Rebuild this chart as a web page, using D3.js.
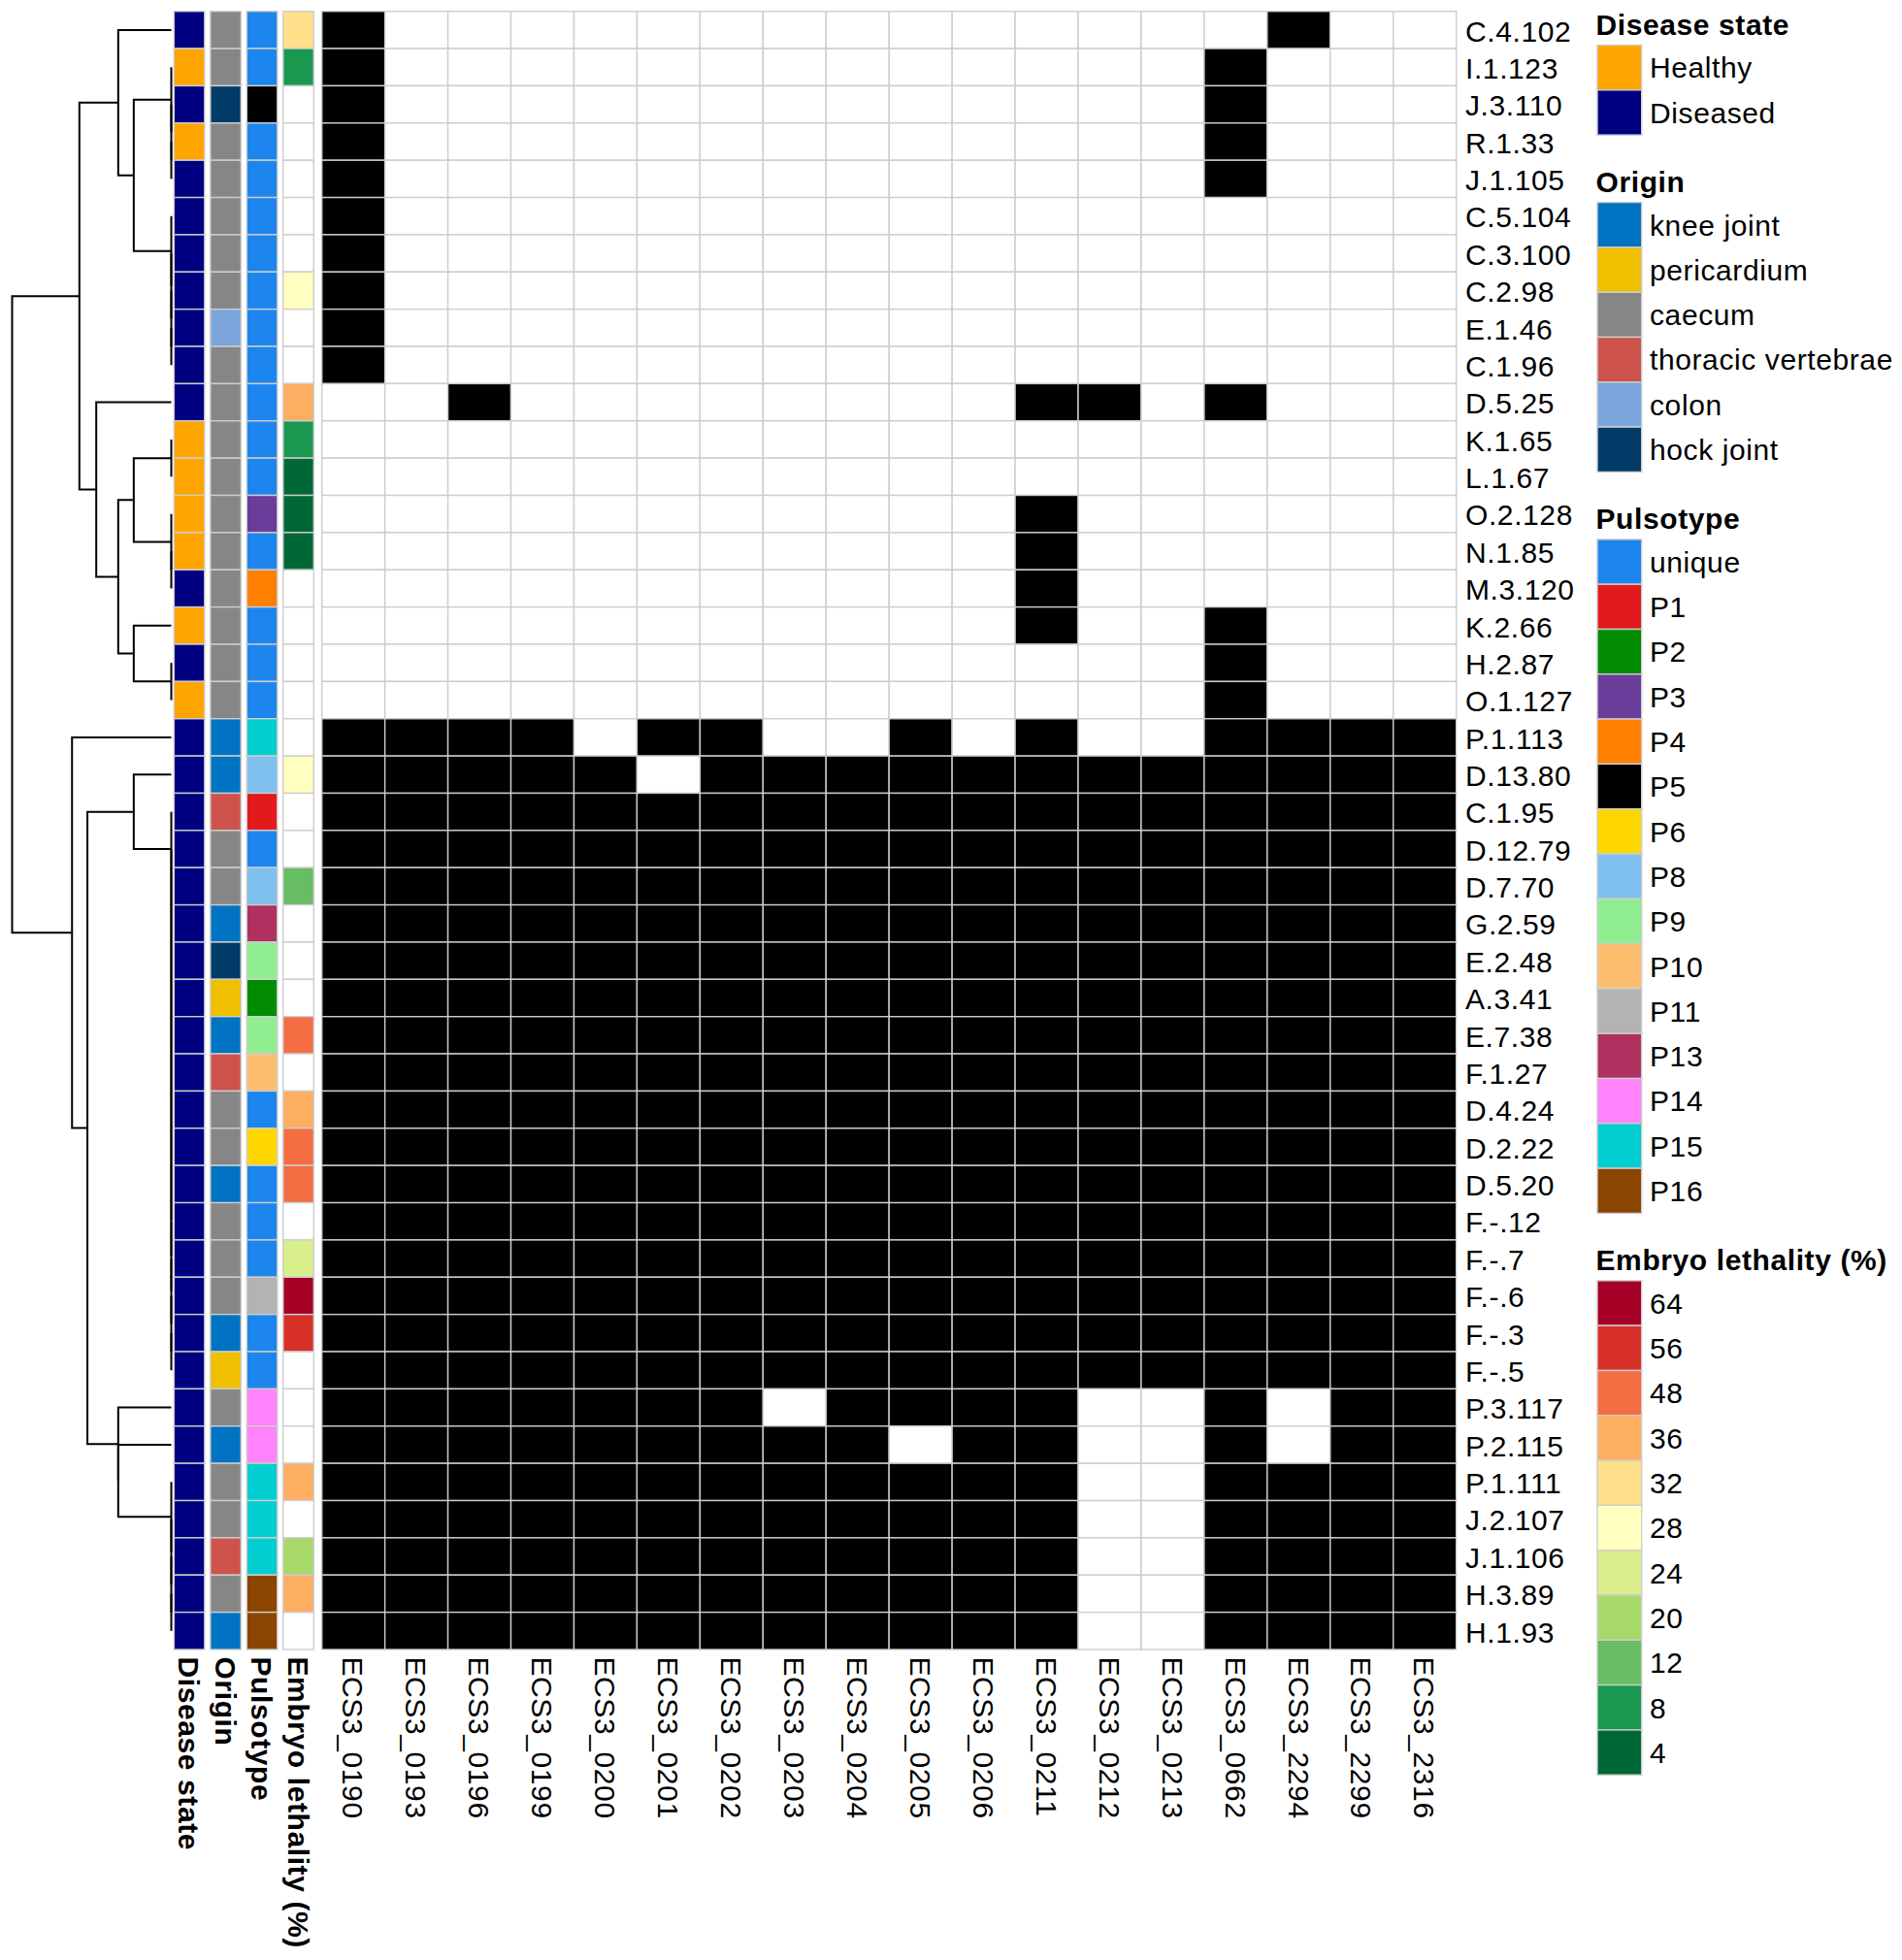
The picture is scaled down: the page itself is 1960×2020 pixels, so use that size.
<!DOCTYPE html>
<html><head><meta charset="utf-8">
<script src="https://cdn.jsdelivr.net/npm/d3@7"></script>
<style>
body{margin:0;background:#fff}
svg{display:block}
text{font-family:"Liberation Sans", Arial, Helvetica, sans-serif;fill:#000;letter-spacing:0.6px}
</style>
</head><body>
<svg id="chart" width="1960" height="2020"></svg>
<script>
// ---------------- DATA ----------------
const rowLabels = ["C.4.102","I.1.123","J.3.110","R.1.33","J.1.105","C.5.104","C.3.100","C.2.98","E.1.46","C.1.96",
  "D.5.25","K.1.65","L.1.67","O.2.128","N.1.85","M.3.120","K.2.66","H.2.87","O.1.127","P.1.113",
  "D.13.80","C.1.95","D.12.79","D.7.70","G.2.59","E.2.48","A.3.41","E.7.38","F.1.27","D.4.24",
  "D.2.22","D.5.20","F.-.12","F.-.7","F.-.6","F.-.3","F.-.5","P.3.117","P.2.115","P.1.111",
  "J.2.107","J.1.106","H.3.89","H.1.93"];

const colLabels = ["ECS3_0190","ECS3_0193","ECS3_0196","ECS3_0199","ECS3_0200","ECS3_0201","ECS3_0202","ECS3_0203","ECS3_0204",
  "ECS3_0205","ECS3_0206","ECS3_0211","ECS3_0212","ECS3_0213","ECS3_0662","ECS3_2294","ECS3_2299","ECS3_2316"];

// presence (1) / absence (0) of each gene, one row per isolate, columns in colLabels order
const presence = [
  [1,0,0,0,0,0,0,0,0,0,0,0,0,0,0,1,0,0], // C.4.102
  [1,0,0,0,0,0,0,0,0,0,0,0,0,0,1,0,0,0], // I.1.123
  [1,0,0,0,0,0,0,0,0,0,0,0,0,0,1,0,0,0], // J.3.110
  [1,0,0,0,0,0,0,0,0,0,0,0,0,0,1,0,0,0], // R.1.33
  [1,0,0,0,0,0,0,0,0,0,0,0,0,0,1,0,0,0], // J.1.105
  [1,0,0,0,0,0,0,0,0,0,0,0,0,0,0,0,0,0], // C.5.104
  [1,0,0,0,0,0,0,0,0,0,0,0,0,0,0,0,0,0], // C.3.100
  [1,0,0,0,0,0,0,0,0,0,0,0,0,0,0,0,0,0], // C.2.98
  [1,0,0,0,0,0,0,0,0,0,0,0,0,0,0,0,0,0], // E.1.46
  [1,0,0,0,0,0,0,0,0,0,0,0,0,0,0,0,0,0], // C.1.96
  [0,0,1,0,0,0,0,0,0,0,0,1,1,0,1,0,0,0], // D.5.25
  [0,0,0,0,0,0,0,0,0,0,0,0,0,0,0,0,0,0], // K.1.65
  [0,0,0,0,0,0,0,0,0,0,0,0,0,0,0,0,0,0], // L.1.67
  [0,0,0,0,0,0,0,0,0,0,0,1,0,0,0,0,0,0], // O.2.128
  [0,0,0,0,0,0,0,0,0,0,0,1,0,0,0,0,0,0], // N.1.85
  [0,0,0,0,0,0,0,0,0,0,0,1,0,0,0,0,0,0], // M.3.120
  [0,0,0,0,0,0,0,0,0,0,0,1,0,0,1,0,0,0], // K.2.66
  [0,0,0,0,0,0,0,0,0,0,0,0,0,0,1,0,0,0], // H.2.87
  [0,0,0,0,0,0,0,0,0,0,0,0,0,0,1,0,0,0], // O.1.127
  [1,1,1,1,0,1,1,0,0,1,0,1,0,0,1,1,1,1], // P.1.113
  [1,1,1,1,1,0,1,1,1,1,1,1,1,1,1,1,1,1], // D.13.80
  [1,1,1,1,1,1,1,1,1,1,1,1,1,1,1,1,1,1], // C.1.95
  [1,1,1,1,1,1,1,1,1,1,1,1,1,1,1,1,1,1], // D.12.79
  [1,1,1,1,1,1,1,1,1,1,1,1,1,1,1,1,1,1], // D.7.70
  [1,1,1,1,1,1,1,1,1,1,1,1,1,1,1,1,1,1], // G.2.59
  [1,1,1,1,1,1,1,1,1,1,1,1,1,1,1,1,1,1], // E.2.48
  [1,1,1,1,1,1,1,1,1,1,1,1,1,1,1,1,1,1], // A.3.41
  [1,1,1,1,1,1,1,1,1,1,1,1,1,1,1,1,1,1], // E.7.38
  [1,1,1,1,1,1,1,1,1,1,1,1,1,1,1,1,1,1], // F.1.27
  [1,1,1,1,1,1,1,1,1,1,1,1,1,1,1,1,1,1], // D.4.24
  [1,1,1,1,1,1,1,1,1,1,1,1,1,1,1,1,1,1], // D.2.22
  [1,1,1,1,1,1,1,1,1,1,1,1,1,1,1,1,1,1], // D.5.20
  [1,1,1,1,1,1,1,1,1,1,1,1,1,1,1,1,1,1], // F.-.12
  [1,1,1,1,1,1,1,1,1,1,1,1,1,1,1,1,1,1], // F.-.7
  [1,1,1,1,1,1,1,1,1,1,1,1,1,1,1,1,1,1], // F.-.6
  [1,1,1,1,1,1,1,1,1,1,1,1,1,1,1,1,1,1], // F.-.3
  [1,1,1,1,1,1,1,1,1,1,1,1,1,1,1,1,1,1], // F.-.5
  [1,1,1,1,1,1,1,0,1,1,1,1,0,0,1,0,1,1], // P.3.117
  [1,1,1,1,1,1,1,1,1,0,1,1,0,0,1,0,1,1], // P.2.115
  [1,1,1,1,1,1,1,1,1,1,1,1,0,0,1,1,1,1], // P.1.111
  [1,1,1,1,1,1,1,1,1,1,1,1,0,0,1,1,1,1], // J.2.107
  [1,1,1,1,1,1,1,1,1,1,1,1,0,0,1,1,1,1], // J.1.106
  [1,1,1,1,1,1,1,1,1,1,1,1,0,0,1,1,1,1], // H.3.89
  [1,1,1,1,1,1,1,1,1,1,1,1,0,0,1,1,1,1]  // H.1.93
];

const diseaseState = ["Diseased","Healthy","Diseased","Healthy","Diseased","Diseased","Diseased","Diseased","Diseased","Diseased",
  "Diseased","Healthy","Healthy","Healthy","Healthy","Diseased","Healthy","Diseased","Healthy","Diseased",
  "Diseased","Diseased","Diseased","Diseased","Diseased","Diseased","Diseased","Diseased","Diseased","Diseased",
  "Diseased","Diseased","Diseased","Diseased","Diseased","Diseased","Diseased","Diseased","Diseased","Diseased",
  "Diseased","Diseased","Diseased","Diseased"];

const origin = ["caecum","caecum","hock joint","caecum","caecum","caecum","caecum","caecum","colon","caecum",
  "caecum","caecum","caecum","caecum","caecum","caecum","caecum","caecum","caecum","knee joint",
  "knee joint","thoracic vertebrae","caecum","caecum","knee joint","hock joint","pericardium","knee joint","thoracic vertebrae","caecum",
  "caecum","knee joint","caecum","caecum","caecum","knee joint","pericardium","caecum","knee joint","caecum",
  "caecum","thoracic vertebrae","caecum","knee joint"];

const pulsotype = ["unique","unique","P5","unique","unique","unique","unique","unique","unique","unique",
  "unique","unique","unique","P3","unique","P4","unique","unique","unique","P15",
  "P8","P1","unique","P8","P13","P9","P2","P9","P10","unique",
  "P6","unique","unique","unique","P11","unique","unique","P14","P14","P15",
  "P15","P15","P16","P16"];

const embryoLethality = [32,8,null,null,null,null,null,28,null,null,
  36,8,4,4,4,null,null,null,null,null,
  28,null,null,12,null,null,null,48,null,36,
  48,48,null,24,64,56,null,null,null,36,
  null,20,36,null];

const annotationNames = ["Disease state","Origin","Pulsotype","Embryo lethality (%)"];

const diseaseLevels = ["Healthy","Diseased"];
const diseaseColors = ["#FFA500","#000080"];
const originLevels = ["knee joint","pericardium","caecum","thoracic vertebrae","colon","hock joint"];
const originColors = ["#0073C2","#EFC000","#868686","#CD534C","#7AA6DC","#003C67"];
const pulsoLevels = ["unique","P1","P2","P3","P4","P5","P6","P8","P9","P10","P11","P13","P14","P15","P16"];
const pulsoColors = ["#1C86EE","#E31A1C","#008B00","#6A3D9A","#FF7F00","#000000","#FFD700","#7EC0EE","#90EE90","#FDBF6F","#B3B3B3","#B03060","#FF83FA","#00CED1","#8B4500"];
const lethalityLevels = [64,56,48,36,32,28,24,20,12,8,4];
const lethalityColors = d3.schemeRdYlGn[11];

// row dendrogram topology (leaf order)
const chain = labels => labels.length === 1 ? labels[0] : [labels[0], chain(labels.slice(1))];
const rowTree = [
  [
    ["C.4.102", [chain(["I.1.123","J.3.110","R.1.33","J.1.105"]), chain(["C.5.104","C.3.100","C.2.98","E.1.46","C.1.96"])]],
    ["D.5.25", [[chain(["K.1.65","L.1.67"]), chain(["O.2.128","N.1.85","M.3.120"])], ["K.2.66", chain(["H.2.87","O.1.127"])]]]
  ],
  ["P.1.113", [
    ["D.13.80", chain(["C.1.95","D.12.79","D.7.70","G.2.59","E.2.48","A.3.41","E.7.38","F.1.27","D.4.24","D.2.22","D.5.20","F.-.12","F.-.7","F.-.6","F.-.3","F.-.5"])],
    ["P.3.117", ["P.2.115", chain(["P.1.111","J.2.107","J.1.106","H.3.89","H.1.93"])]]
  ]]
];

// ---------------- LAYOUT ----------------
const svg = d3.select("#chart");
const FONT = 30;
const GRID = "#cdcdcd";

const heatLeft = 331.7, heatRight = 1500.7, heatTop = 11.7, heatBottom = 1700;
const x = d3.scaleBand().domain(colLabels).range([heatLeft, heatRight]);
const y = d3.scaleBand().domain(rowLabels).range([heatTop, heatBottom]);
const xa = d3.scaleBand().domain(annotationNames).range([179.3, 323.3]).paddingInner(0.16);

const cDisease = d3.scaleOrdinal(diseaseLevels, diseaseColors);
const cOrigin = d3.scaleOrdinal(originLevels, originColors);
const cPulso = d3.scaleOrdinal(pulsoLevels, pulsoColors);
const cLeth = d3.scaleOrdinal(lethalityLevels, lethalityColors);

// ---------------- HEATMAP ----------------
const cells = [];
presence.forEach((row, i) => row.forEach((v, j) => cells.push({r: rowLabels[i], c: colLabels[j], v})));
svg.append("g").selectAll("rect").data(cells).join("rect")
  .attr("x", d => x(d.c)).attr("y", d => y(d.r))
  .attr("width", x.bandwidth()).attr("height", y.bandwidth())
  .attr("fill", d => d.v ? "#000" : "#fff")
  .attr("stroke", GRID).attr("stroke-width", 1.4);

// ---------------- ROW ANNOTATIONS ----------------
const annoCols = [
  {name: "Disease state", vals: diseaseState, color: v => cDisease(v)},
  {name: "Origin", vals: origin, color: v => cOrigin(v)},
  {name: "Pulsotype", vals: pulsotype, color: v => cPulso(v)},
  {name: "Embryo lethality (%)", vals: embryoLethality, color: v => v == null ? "#fff" : cLeth(v)}
];
annoCols.forEach(a => {
  svg.append("g").selectAll("rect").data(a.vals).join("rect")
    .attr("x", xa(a.name)).attr("y", (d, i) => y(rowLabels[i]))
    .attr("width", xa.bandwidth()).attr("height", y.bandwidth())
    .attr("fill", d => a.color(d))
    .attr("stroke", GRID).attr("stroke-width", 1.4);
});

// ---------------- LABELS ----------------
svg.append("g").selectAll("text").data(rowLabels).join("text")
  .attr("x", 1510).attr("y", d => y(d) + y.bandwidth() / 2).attr("dy", "0.39em")
  .style("font-size", FONT + "px").text(d => d);

svg.append("g").selectAll("text").data(colLabels).join("text")
  .attr("transform", d => `translate(${x(d) + x.bandwidth() / 2},1707.5) rotate(90)`)
  .attr("dy", "0.36em").style("font-size", FONT + "px").text(d => d);

svg.append("g").selectAll("text").data(annotationNames).join("text")
  .attr("transform", d => `translate(${xa(d) + xa.bandwidth() / 2},1707.5) rotate(90)`)
  .attr("dy", "0.36em").style("font-size", FONT + "px").style("font-weight", "bold").text(d => d);

// ---------------- DENDROGRAM ----------------
const rowIndex = new Map(rowLabels.map((r, i) => [r, i]));
const dist = (a, b) => Math.sqrt(d3.sum(presence[a], (v, k) => (v - presence[b][k]) ** 2));
const root = d3.hierarchy(rowTree, d => Array.isArray(d) ? d : null);
root.eachAfter(n => {
  if (!n.children) {
    n.idx = [rowIndex.get(n.data)];
    n.h = 0;
    n.pos = y(n.data) + y.bandwidth() / 2;
  } else {
    const [a, b] = n.children;
    n.idx = a.idx.concat(b.idx);
    let m = 0;
    a.idx.forEach(i => b.idx.forEach(j => { m = Math.max(m, dist(i, j)); }));
    n.h = Math.max(m, a.h, b.h);
    n.pos = (a.pos + b.pos) / 2;
  }
});
const hx = d3.scaleLinear().domain([0, root.h]).range([176.5, 12.5]);
const links = root.descendants().filter(n => n.children);
svg.append("g").selectAll("path").data(links).join("path")
  .attr("d", n => {
    const [a, b] = n.children;
    return `M${hx(a.h)},${a.pos}H${hx(n.h)}V${b.pos}H${hx(b.h)}`;
  })
  .attr("fill", "none").attr("stroke", "#000").attr("stroke-width", 2);

// ---------------- LEGENDS ----------------
const legends = [
  {title: "Disease state", levels: diseaseLevels, scale: cDisease},
  {title: "Origin", levels: originLevels, scale: cOrigin},
  {title: "Pulsotype", levels: pulsoLevels, scale: cPulso},
  {title: "Embryo lethality (%)", levels: lethalityLevels, scale: cLeth}
];
const LX = 1646, KEY_W = 45.7, KEY_H = 46.3;
let baseline = 35.5;
legends.forEach(L => {
  const g = svg.append("g");
  g.append("text").attr("x", 1644.5).attr("y", baseline)
    .style("font-size", FONT + "px").style("font-weight", "bold").text(L.title);
  const y0 = baseline + 11;
  const ly = d3.scaleBand().domain(L.levels).range([y0, y0 + KEY_H * L.levels.length]);
  g.selectAll("rect").data(L.levels).join("rect")
    .attr("x", LX).attr("y", d => ly(d)).attr("width", KEY_W).attr("height", ly.bandwidth())
    .attr("fill", d => L.scale(d)).attr("stroke", GRID).attr("stroke-width", 1.4);
  g.selectAll("text.lab").data(L.levels).join("text").attr("class", "lab")
    .attr("x", 1700).attr("y", d => ly(d) + ly.bandwidth() / 2).attr("dy", "0.36em")
    .style("font-size", FONT + "px").text(d => d);
  baseline = y0 + KEY_H * L.levels.length + 58.5;
});
</script>
</body></html>
